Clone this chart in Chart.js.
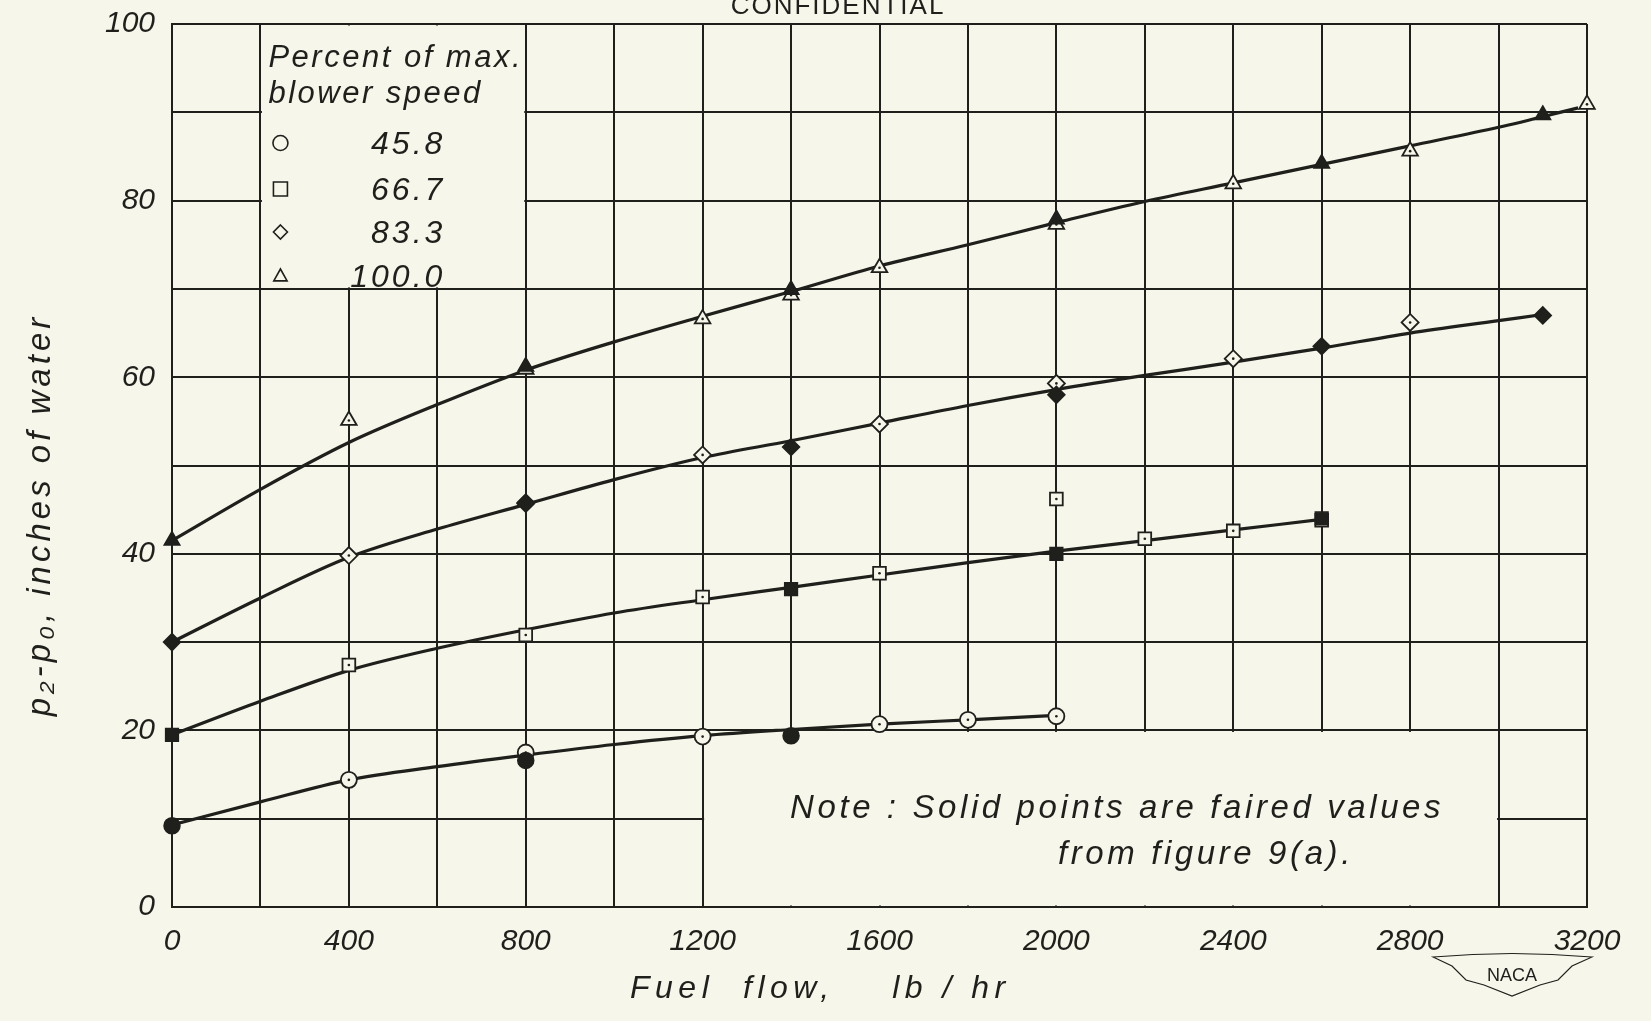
<!DOCTYPE html>
<html>
<head>
<meta charset="utf-8">
<script src="https://cdn.jsdelivr.net/npm/chart.js@4/dist/chart.umd.min.js"></script>
<style>
  html, body { margin: 0; padding: 0; background: #f7f6ea; }
  #wrap { width: 1651px; height: 1021px; position: relative; }
</style>
</head>
<body>
<div id="wrap"><canvas id="chart" width="1651" height="1021"></canvas></div>
<script>
// blower speeds, percent of max
const speeds = ['45.8', '66.7', '83.3', '100.0'];
const markers = ['circle', 'rect', 'rectRot', 'triangle'];

// faired curves
const curve458X = [0, 200, 400, 600, 800, 1000, 1200, 1400, 1600, 1800, 2000];
const curve458Y = [9.3, 11.9, 14.4, 15.9, 17.2, 18.4, 19.4, 20.1, 20.7, 21.2, 21.7];
const curve667X = [0, 200, 400, 600, 800, 1000, 1200, 1400, 1600, 1800, 2000, 2200, 2400, 2600];
const curve667Y = [19.5, 23.3, 26.8, 29.3, 31.4, 33.3, 34.8, 36.2, 37.6, 39.0, 40.3, 41.5, 42.7, 43.9];
const curve833X = [0, 200, 400, 600, 800, 1000, 1200, 1400, 1600, 1800, 2000, 2200, 2400, 2600, 2800, 3000, 3100];
const curve833Y = [30.0, 35.0, 39.6, 42.8, 45.6, 48.4, 50.9, 52.8, 54.8, 56.8, 58.6, 60.2, 61.7, 63.3, 65.0, 66.4, 67.1];
const curve100X = [0, 200, 400, 600, 800, 1000, 1200, 1400, 1600, 1800, 2000, 2200, 2400, 2600, 2800, 3000, 3180];
const curve100Y = [41.5, 47.3, 52.6, 56.9, 60.8, 64.0, 66.9, 69.7, 72.6, 75.0, 77.5, 79.9, 82.0, 84.1, 86.2, 88.3, 90.5];

// open symbols (test points)
const open458X = [400, 800, 1200, 1600, 1800, 2000];
const open458Y = [14.4, 17.5, 19.3, 20.7, 21.2, 21.6];
const open667X = [400, 800, 1200, 1600, 2000, 2200, 2400, 2600];
const open667Y = [27.4, 30.8, 35.1, 37.8, 46.2, 41.7, 42.6, 43.8];
const open833X = [400, 800, 1200, 1600, 2000, 2400, 2800];
const open833Y = [39.8, 45.7, 51.2, 54.7, 59.3, 62.1, 66.2];
const open100X = [400, 800, 1200, 1400, 1600, 2000, 2400, 2800, 3200];
const open100Y = [55.1, 60.9, 66.6, 69.3, 72.4, 77.3, 81.9, 85.6, 90.9];

// solid symbols (faired values from figure 9(a))
const solid458X = [0, 800, 1400];
const solid458Y = [9.2, 16.6, 19.4];
const solid667X = [0, 1400, 2000, 2600];
const solid667Y = [19.5, 36.0, 40.0, 44.0];
const solid833X = [0, 800, 1400, 2000, 2600, 3100];
const solid833Y = [30.0, 45.8, 52.1, 58.0, 63.5, 67.0];
const solid100X = [0, 800, 1400, 2000, 2600, 3100];
const solid100Y = [41.5, 61.2, 69.9, 77.9, 84.2, 89.7];

const curvesX = [curve458X, curve667X, curve833X, curve100X];
const curvesY = [curve458Y, curve667Y, curve833Y, curve100Y];
const openX = [open458X, open667X, open833X, open100X];
const openY = [open458Y, open667Y, open833Y, open100Y];
const solidX = [solid458X, solid667X, solid833X, solid100X];
const solidY = [solid458Y, solid667Y, solid833Y, solid100Y];

const INK = '#1f1f1c';
const PAPER = '#f7f6ea';
const FAM = '"Liberation Sans", "DejaVu Sans", sans-serif';

const pts = (xs, ys) => xs.map((x, i) => ({ x: x, y: ys[i] }));
const sizeFor = s => ({ circle: 8, rect: 9, rectRot: 8.5, triangle: 9 })[s];

const datasets = [];
speeds.forEach((sp, k) => {
  datasets.push({
    label: sp + ' curve', type: 'line', data: pts(curvesX[k], curvesY[k]),
    borderColor: INK, borderWidth: 3.2, pointRadius: 0, fill: false,
    cubicInterpolationMode: 'monotone', order: 3
  });
  datasets.push({
    label: sp + ' open', type: 'scatter', data: pts(openX[k], openY[k]), clip: false,
    pointStyle: markers[k], pointRadius: sizeFor(markers[k]),
    pointBackgroundColor: PAPER, pointBorderColor: INK, pointBorderWidth: 1.8, order: 2
  });
  datasets.push({
    label: sp + ' dot', type: 'scatter', data: pts(openX[k], openY[k]), clip: false,
    pointStyle: 'circle', pointRadius: 1.3, pointBackgroundColor: INK, pointBorderWidth: 0, order: 1
  });
  datasets.push({
    label: sp + ' solid', type: 'scatter', data: pts(solidX[k], solidY[k]), clip: false,
    pointStyle: markers[k], pointRadius: sizeFor(markers[k]),
    pointBackgroundColor: INK, pointBorderColor: INK, pointBorderWidth: 1.5, order: 0
  });
});

function drawMarker(ctx, style, x, y, r) {
  ctx.beginPath();
  if (style === 'circle') ctx.arc(x, y, r, 0, Math.PI * 2);
  else if (style === 'rect') ctx.rect(x - r, y - r, 2 * r, 2 * r);
  else if (style === 'rectRot') { ctx.moveTo(x, y - r); ctx.lineTo(x + r, y); ctx.lineTo(x, y + r); ctx.lineTo(x - r, y); ctx.closePath(); }
  else { ctx.moveTo(x, y - r); ctx.lineTo(x + r * 0.95, y + r * 0.7); ctx.lineTo(x - r * 0.95, y + r * 0.7); ctx.closePath(); }
  ctx.stroke();
}

const paperPlugin = {
  id: 'paper',
  beforeDraw(chart) {
    const ctx = chart.ctx;
    ctx.save();
    ctx.fillStyle = PAPER;
    ctx.fillRect(0, 0, chart.width, chart.height);
    ctx.restore();
  },
  beforeDatasetsDraw(chart) {
    const ctx = chart.ctx, xs = chart.scales.x, ys = chart.scales.y;
    const px = v => xs.getPixelForValue(v), py = v => ys.getPixelForValue(v);
    ctx.save();
    ctx.fillStyle = PAPER;
    // legend box and note box sit on cleared paper
    ctx.fillRect(px(200) + 1.5, py(100) + 1.5, px(800) - px(200) - 3, py(70) - py(100) - 3);
    ctx.fillRect(px(1200) + 1.5, py(20) + 1.5, px(3000) - px(1200) - 3, py(0) - py(20) - 3);

    ctx.fillStyle = INK;
    ctx.strokeStyle = INK;
    ctx.font = 'italic 31px ' + FAM;
    if ('letterSpacing' in ctx) ctx.letterSpacing = '2.5px';
    ctx.textBaseline = 'alphabetic';
    ctx.textAlign = 'left';
    const lx = px(200) + 8;
    ctx.fillText('Percent of max.', lx, 67);
    ctx.fillText('blower speed', lx, 103);
    const rowsY = [143, 189, 232, 276];
    ctx.lineWidth = 1.6;
    if ('letterSpacing' in ctx) ctx.letterSpacing = '3px';
    ctx.font = 'italic 32px ' + FAM;
    speeds.forEach((sp, k) => {
      drawMarker(ctx, markers[k], lx + 12, rowsY[k], k === 0 ? 7.5 : 7);
      ctx.textAlign = 'right';
      ctx.fillText(sp, px(600) + 8, rowsY[k] + 11);
      ctx.textAlign = 'left';
    });

    ctx.font = 'italic 33px ' + FAM;
    if ('letterSpacing' in ctx) ctx.letterSpacing = '3.6px';
    ctx.fillText('Note : Solid points are faired values', 790, 818);
    ctx.fillText('from figure 9(a).', 1058, 864);
    ctx.restore();
  },
  afterDraw(chart) {
    const ctx = chart.ctx;
    ctx.save();
    ctx.fillStyle = INK;
    ctx.strokeStyle = INK;
    ctx.font = 'italic 32px ' + FAM;
    if ('letterSpacing' in ctx) ctx.letterSpacing = '5.5px';
    ctx.textAlign = 'left';
    ctx.textBaseline = 'alphabetic';
    ctx.fillText('Fuel  flow,    lb / hr', 630, 998);

    ctx.translate(50, 515);
    ctx.rotate(-Math.PI / 2);
    ctx.textAlign = 'center';
    ctx.font = 'italic 33px ' + FAM;
    if ('letterSpacing' in ctx) ctx.letterSpacing = '4px';
    ctx.fillText('p\u2082-p\u2080, inches of water', 0, 0);
    ctx.restore();

    ctx.save();
    ctx.fillStyle = INK;
    ctx.font = '26px ' + FAM;
    if ('letterSpacing' in ctx) ctx.letterSpacing = '2px';
    ctx.textAlign = 'center';
    ctx.fillText('CONFIDENTIAL', 838, 14);

    // NACA wing emblem
    ctx.strokeStyle = INK;
    ctx.lineWidth = 1.2;
    ctx.beginPath();
    ctx.moveTo(1433, 957);
    ctx.quadraticCurveTo(1512, 950, 1592, 957);
    ctx.lineTo(1572, 966);
    ctx.lineTo(1558, 980);
    ctx.lineTo(1540, 985);
    ctx.lineTo(1512, 996);
    ctx.lineTo(1484, 985);
    ctx.lineTo(1466, 980);
    ctx.lineTo(1452, 966);
    ctx.closePath();
    ctx.stroke();
    ctx.font = '18px ' + FAM;
    if ('letterSpacing' in ctx) ctx.letterSpacing = '0px';
    ctx.fillText('NACA', 1512, 981);
    ctx.restore();
  }
};

const handFont = { family: FAM, size: 30, style: 'italic' };

new Chart(document.getElementById('chart'), {
  type: 'scatter',
  data: { datasets: datasets },
  plugins: [paperPlugin],
  options: {
    responsive: false,
    animation: false,
    layout: { padding: { top: 24, right: 64, left: 0, bottom: 0 } },
    plugins: { legend: { display: false }, tooltip: { enabled: false } },
    scales: {
      x: {
        type: 'linear', min: 0, max: 3200,
        ticks: {
          stepSize: 200, autoSkip: false, maxRotation: 0, padding: 17, color: INK, font: handFont,
          callback: v => (v % 400 === 0 ? String(v) : '')
        },
        grid: { color: INK, lineWidth: 2, drawTicks: false },
        border: { color: INK, width: 2 },
        afterFit: s => { s.height = 114; s.paddingLeft = 0; s.paddingRight = 0; }
      },
      y: {
        type: 'linear', min: 0, max: 100,
        ticks: {
          stepSize: 10, autoSkip: false, padding: 17, color: INK, font: handFont,
          callback: v => (v % 20 === 0 ? String(v) : '')
        },
        grid: { color: INK, lineWidth: 2, drawTicks: false },
        border: { color: INK, width: 2 },
        afterFit: s => { s.width = 172; s.paddingTop = 0; s.paddingBottom = 0; }
      }
    }
  }
});
</script>
</body>
</html>
